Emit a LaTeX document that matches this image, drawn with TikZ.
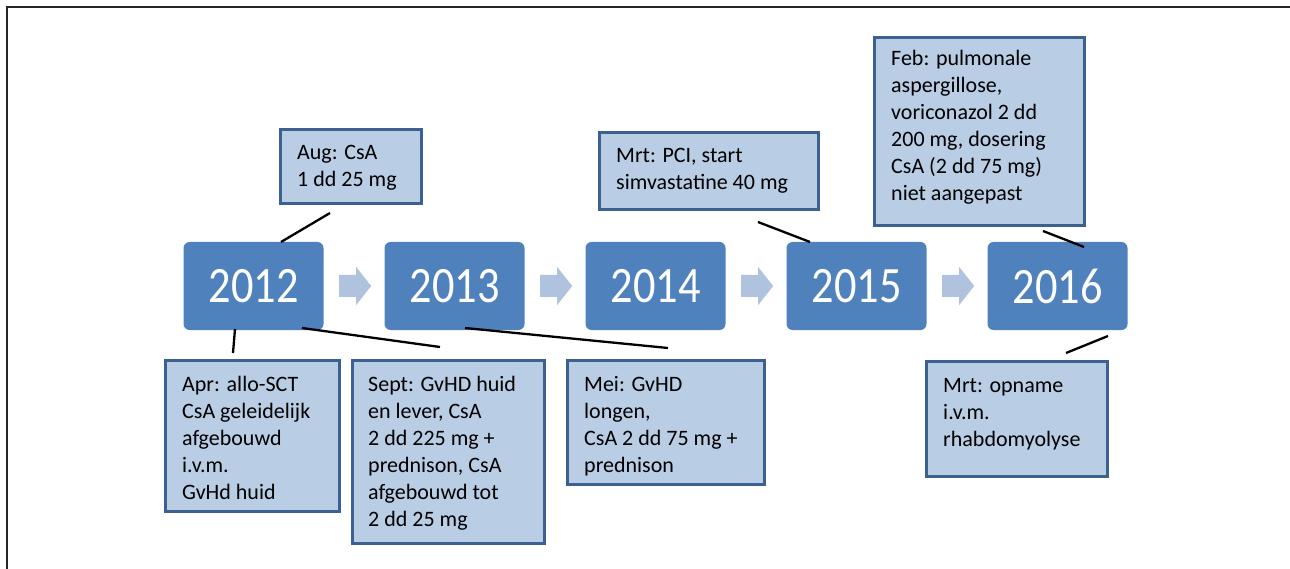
\documentclass[tikz,border=0pt]{standalone}
\usepackage{fontspec}
\setmainfont{Carlito}
\usetikzlibrary{calc}
\definecolor{yearblue}{HTML}{4F81BD}
\definecolor{cfill}{HTML}{B9CDE5}
\definecolor{cborder}{HTML}{3C6090}
\definecolor{arrblue}{HTML}{AFC2DE}
\begin{document}
\begin{tikzpicture}[x=1pt,y=-1pt,
  yearbox/.style={fill=yearblue, rounded corners=6pt, minimum width=140pt, minimum height=88pt, inner sep=0pt,
     text=white, font=\fontsize{51}{60}\selectfont},
  cbox/.style={draw=cborder, fill=cfill, line width=3pt, anchor=north west, inner sep=0pt},
  ctext/.style={anchor=base west, inner sep=0pt, font=\fontsize{22}{27}\selectfont},
  conn/.style={draw=black, line width=2.3pt},
  arr/.style={fill=arrblue}
]
\useasboundingbox (0,0) rectangle (1290,569);
\draw[line width=2pt, black!85] (7,569) -- (7,7) -- (1290,7);

% year boxes
\foreach \i/\yr in {0/2012,1/2013,2/2014,3/2015,4/2016}{
  \node[yearbox] (y\yr) at (253.5+201*\i,286) {\scalebox{0.87}[1]{\yr}};
}
% arrows
\foreach \a/\b in {2012/2013,2013/2014,2014/2015,2015/2016}{
  \path[arr] ($(y\a.east)+(15.5,-11)$) -- ++(17,0) -- ++(0,-8) -- ++(15,19) -- ++(-15,19) -- ++(0,-8) -- ++(-17,0) -- cycle;
}

\newcommand{\ct}[1]{\parbox[t]{220pt}{\raggedright #1}}

% callout boxes
\node[cbox, minimum width=141pt, minimum height=74pt] (aug) at (279,128) {};
\node[ctext] (augt) at ($(aug.north west)+(18,32)$) {\ct{Aug: CsA\\1 dd 25 mg}};

\node[cbox, minimum width=219pt, minimum height=77pt] (pci) at (598,131) {};
\node[ctext] (pcit) at ($(pci.north west)+(18,32)$) {\ct{Mrt: PCI, start\\simvastatine 40 mg}};

\node[cbox, minimum width=210pt, minimum height=188pt] (feb) at (873,36) {};
\node[ctext] (febt) at ($(feb.north west)+(18,30)$) {\ct{Feb: pulmonale\\aspergillose,\\voriconazol 2 dd\\200 mg, dosering\\CsA (2 dd 75 mg)\\niet aangepast}};

\node[cbox, minimum width=174pt, minimum height=151pt] (apr) at (164,359) {};
\node[ctext] (aprt) at ($(apr.north west)+(18,32)$) {\ct{Apr: allo-SCT\\CsA geleidelijk\\afgebouwd\\i.v.m.\\GvHd huid}};

\node[cbox, minimum width=192pt, minimum height=183pt] (sept) at (351,359) {};
\node[ctext] (septt) at ($(sept.north west)+(17,32)$) {\ct{Sept: GvHD huid\\en lever, CsA\\2 dd 225 mg +\\prednison, CsA\\afgebouwd tot\\2 dd 25 mg}};

\node[cbox, minimum width=197pt, minimum height=124pt] (mei) at (566,359) {};
\node[ctext] (meit) at ($(mei.north west)+(18,32)$) {\ct{Mei: GvHD\\longen,\\CsA 2 dd 75 mg +\\prednison}};

\node[cbox, minimum width=181pt, minimum height=115pt] (mrt) at (925,360) {};
\node[ctext] (mrtt) at ($(mrt.north west)+(18,32)$) {\ct{Mrt: opname\\i.v.m.\\rhabdomyolyse}};

% connectors
\coordinate (c1a) at (330,213); \coordinate (c1b) at (281,242);
\coordinate (c2a) at (235,329); \coordinate (c2b) at (233,353);
\coordinate (c3a) at (302,328); \coordinate (c3b) at (440,347);
\coordinate (c4a) at (465,328); \coordinate (c4b) at (668,348);
\coordinate (c5a) at (758,222); \coordinate (c5b) at (810,242);
\coordinate (c6a) at (1043,231); \coordinate (c6b) at (1084,247);
\coordinate (c7a) at (1108,336); \coordinate (c7b) at (1066,353);
\draw[conn] (c1a) -- (c1b);
\draw[conn] (c2a) -- (c2b);
\draw[conn] (c3a) -- (c3b);
\draw[conn] (c4a) -- (c4b);
\draw[conn] (c5a) -- (c5b);
\draw[conn] (c6a) -- (c6b);
\draw[conn] (c7a) -- (c7b);
\end{tikzpicture}
\end{document}
